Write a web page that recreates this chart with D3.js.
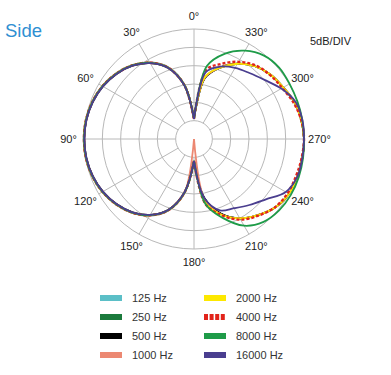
<!DOCTYPE html>
<html><head><meta charset="utf-8">
<script src="https://cdn.jsdelivr.net/npm/d3@7"></script>
<style>
html,body{margin:0;padding:0;background:#fff;}
svg{display:block;font-family:"Liberation Sans",Arial,sans-serif;}
</style></head>
<body>
<svg id="chart" width="391" height="375"></svg>
<script>
// angles (degrees, counter-clockwise from top as labelled)
const angles = d3.range(0, 360, 10);
const angleLabels = ["0°","30°","60°","90°","120°","150°","180°","210°","240°","270°","300°","330°"];
const ringLevels = [-25, -20, -15, -10, -5, 0];
const frequencies = ["125 Hz","250 Hz","500 Hz","1000 Hz","2000 Hz","4000 Hz","8000 Hz","16000 Hz"];
const colors = ["#5bbfc7","#1b7a3c","#000000","#ec8872","#fde800","#e2231a","#1e9b48","#4a3e8f"];

// dB values at 0,10,...,350 degrees
const s125   = [-24.5,-15.0,-9.1,-5.9,-3.7,-2.2,-1.1,-0.4,0.0,0.1,0.0,-0.4,-1.1,-2.2,-3.7,-5.9,-9.2,-15.1,-24,
                -13.4,-8.2,-5.0,-2.9,-1.0,-0.1,0,0,0,-0.3,-0.8,-1.9,-2.7,-4.1,-6.3,-9.3,-13.0];
const s250   = [-24.5,-15.1,-9.2,-6.0,-3.8,-2.3,-1.2,-0.5,-0.1,0.0,-0.1,-0.5,-1.2,-2.3,-3.8,-6.0,-9.3,-15.2,-24,
                -13.5,-8.2,-5.0,-2.9,-1.0,-0.1,0,0,0,-0.3,-0.8,-1.9,-2.7,-4.1,-6.3,-9.3,-13.1];
const s500   = [-24.5,-15.2,-9.3,-6.1,-3.9,-2.4,-1.3,-0.6,-0.2,-0.1,-0.2,-0.6,-1.3,-2.4,-3.9,-6.1,-9.4,-15.3,-24,
                -13.6,-8.3,-5.0,-2.9,-1.0,-0.1,0,0,0,-0.3,-0.8,-1.9,-2.7,-4.1,-6.3,-9.3,-13.2];
const s1000  = [-24.5,-15.1,-9.2,-5.9,-3.7,-2.2,-1.1,-0.4,0.0,0.1,0.0,-0.4,-1.1,-2.2,-3.7,-5.9,-9.2,-15.0,-30,
                -13.2,-8.1,-5.0,-2.9,-1.0,-0.1,0,0,0,-0.3,-0.8,-1.9,-2.7,-4.1,-6.3,-9.3,-13.0];
const s2000  = [-24.5,-15.2,-9.3,-6.0,-3.8,-2.3,-1.2,-0.5,-0.1,0.0,-0.1,-0.5,-1.2,-2.3,-3.8,-6.0,-9.3,-15.2,-24,
                -12.5,-8.0,-5.0,-2.9,-1.0,-0.1,0,0,0,-0.3,-0.8,-1.9,-2.7,-4.1,-6.3,-9.3,-12.8];
const s4000  = [-24.5,-15.2,-9.3,-6.0,-3.8,-2.3,-1.2,-0.5,-0.1,0.0,-0.1,-0.5,-1.2,-2.3,-3.8,-6.0,-9.3,-15.2,-24,
                -12.0,-7.9,-4.6,-2.7,-1.1,-0.5,-0.4,-0.2,0,-0.3,-1.1,-2.2,-2.9,-3.8,-5.7,-8.2,-10.9];
const s8000  = [-24.5,-15.2,-9.3,-6.0,-3.8,-2.3,-1.2,-0.5,-0.1,0.0,-0.1,-0.5,-1.2,-2.3,-3.8,-6.0,-9.3,-15.2,-24,
                -12.0,-7.1,-2.7,-0.5,0.3,0.5,0.4,0.2,0,0,0,0.1,0.3,-0.3,-2.2,-5.2,-9.8];
const s16000 = [-24.5,-15.3,-9.4,-6.1,-3.9,-2.4,-1.3,-0.6,-0.2,-0.1,-0.2,-0.6,-1.3,-2.4,-3.9,-6.1,-9.4,-15.3,-24,
                -13.6,-9.3,-8.2,-6.5,-4.4,-1.1,0,0,0,0,-0.5,-2.5,-4.9,-6.5,-7.6,-9.0,-11.5];
const seriesValues = [s125,s250,s500,s1000,s2000,s4000,s8000,s16000];

const svg = d3.select("#chart");
const cx = 194, cy = 139, R = 110;
const rScale = d3.scaleLinear().domain([-30, 0]).range([0, R]);
const toRad = d => -d * Math.PI / 180;  // CCW from top

// title
svg.append("text").attr("x", 5).attr("y", 37).attr("font-size", 18.5)
  .attr("fill", "#2f8fd2").text("Side");
svg.append("text").attr("x", 310).attr("y", 45).attr("font-size", 11)
  .attr("fill", "#222").text("5dB/DIV");

const g = svg.append("g").attr("transform", `translate(${cx},${cy})`);

// rings
g.selectAll("circle.ring").data(ringLevels).join("circle")
  .attr("class","ring").attr("r", d => rScale(d))
  .attr("fill","none").attr("stroke","#b8b8b8").attr("stroke-width",1);

// spokes
const spokeAngles = d3.range(0, 360, 30);
g.selectAll("line.spoke").data(spokeAngles).join("line")
  .attr("x1", d => -rScale(-25) * Math.sin(d*Math.PI/180))
  .attr("y1", d => -rScale(-25) * Math.cos(d*Math.PI/180))
  .attr("x2", d => -rScale(0) * Math.sin(d*Math.PI/180))
  .attr("y2", d => -rScale(0) * Math.cos(d*Math.PI/180))
  .attr("stroke","#b8b8b8").attr("stroke-width",1);

// angle labels
g.selectAll("text.alab").data(spokeAngles).join("text")
  .attr("x", d => -(R + 14 + (Math.abs(Math.sin(d*Math.PI/180))*1.5)) * Math.sin(d*Math.PI/180))
  .attr("y", d => -(R + 13) * Math.cos(d*Math.PI/180))
  .attr("text-anchor","middle").attr("dominant-baseline","central")
  .attr("font-size", 11).attr("fill","#222")
  .text((d,i) => angleLabels[i]);

// curves: each lobe drawn as an open curve so the nulls stay pointed
const line = d3.lineRadial()
  .angle(d => toRad(d.a))
  .radius(d => Math.max(0, rScale(d.v)))
  .curve(d3.curveCatmullRom.alpha(0.5));

seriesValues.forEach((vals, i) => {
  const pts = angles.map((a, k) => ({a, v: vals[k]}));
  const left = pts.slice(0, 19);
  const right = pts.slice(18).concat([{a: 360, v: vals[0]}]);
  [left, right].forEach(lobe => {
    g.append("path").datum(lobe)
      .attr("d", line)
      .attr("fill","none")
      .attr("stroke", colors[i])
      .attr("stroke-width", i === 5 ? 2.4 : 1.8)
      .attr("stroke-dasharray", i === 5 ? "3,2" : null)
      .attr("stroke-linejoin","round");
  });
});

// legend
const legend = svg.append("g");
frequencies.forEach((f, i) => {
  const col = Math.floor(i / 4), row = i % 4;
  const x0 = col === 0 ? 100 : 204;
  const y0 = 298 + row * 19;
  legend.append("line")
    .attr("x1", x0).attr("x2", x0 + 22).attr("y1", y0).attr("y2", y0)
    .attr("stroke", colors[i]).attr("stroke-width", 6)
    .attr("stroke-dasharray", i === 5 ? "4,1.6" : null);
  legend.append("text").attr("x", x0 + 32).attr("y", y0)
    .attr("dominant-baseline","central").attr("font-size", 11)
    .attr("fill","#333").text(f);
});
</script>
</body></html>
